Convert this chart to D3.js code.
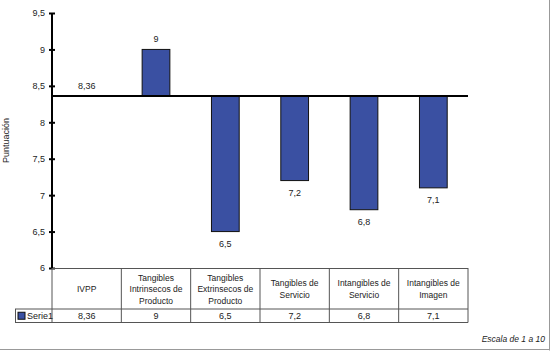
<!DOCTYPE html>
<html>
<head>
<meta charset="utf-8">
<script src="https://cdn.jsdelivr.net/npm/d3@7"></script>
<style>
  body { margin: 0; background: #fff; }
  svg { display: block; font-family: "Liberation Sans", Arial, sans-serif; }
</style>
</head>
<body>
<svg width="550" height="351"></svg>
<script>
"use strict";
// data
const categories = ["IVPP", "Tangibles\nIntrinsecos de\nProducto", "Tangibles\nExtrinsecos de\nProducto",
  "Tangibles de\nServicio", "Intangibles de\nServicio", "Intangibles de\nImagen"];
const values = [8.36, 9, 6.5, 7.2, 6.8, 7.1];
const baseline = 8.36;
const yTicks = [6, 6.5, 7, 7.5, 8, 8.5, 9, 9.5];
const seriesName = "Serie1";

let svg = d3.select("svg");
let margin = {top: 13, left: 52, right: 82, bottom: 83};
let width = 550, height = 351;
let plotBottom = height - margin.bottom;   // 268
let plotRight = width - margin.right;      // 468

let es = d3.formatLocale({decimal: ",", thousands: ".", grouping: [3], currency: ["", ""]});
let fmt = es.format("~g");

let y = d3.scaleLinear().domain([6, 9.5]).range([plotBottom, margin.top]);
let x = d3.scaleBand().domain(d3.range(categories.length)).range([margin.left, plotRight]).padding(0);
let barW = x.bandwidth() * 0.4;

// outer frame (only right/bottom visible)
svg.append("line").attr("x1", 549.5).attr("x2", 549.5).attr("y1", 0).attr("y2", 350.5)
  .attr("stroke", "#999").attr("stroke-width", 1);
svg.append("line").attr("x1", 0).attr("x2", 549.5).attr("y1", 349.5).attr("y2", 349.5)
  .attr("stroke", "#999").attr("stroke-width", 1);

// bars from the baseline
svg.append("g")
  .selectAll("rect")
  .data(values)
  .join("rect")
    .attr("x", (d, i) => x(i) + (x.bandwidth() - barW) / 2)
    .attr("y", d => y(Math.max(d, baseline)))
    .attr("width", barW)
    .attr("height", d => Math.abs(y(d) - y(baseline)))
    .attr("fill", "#3a50a2")
    .attr("stroke", "#111")
    .attr("stroke-width", 1);

// value labels
svg.append("g")
  .style("font-size", "9px")
  .attr("fill", "#222")
  .attr("text-anchor", "middle")
  .selectAll("text")
  .data(values)
  .join("text")
    .attr("x", (d, i) => x(i) + x.bandwidth() / 2)
    .attr("y", d => d >= baseline ? y(d) - 7 : y(d) + 15)
    .text(d => fmt(d));

// baseline line
svg.append("line")
  .attr("x1", margin.left).attr("x2", plotRight)
  .attr("y1", y(baseline)).attr("y2", y(baseline))
  .attr("stroke", "#000").attr("stroke-width", 2);

// y axis
let gy = svg.append("g")
  .attr("transform", `translate(${margin.left},0)`)
  .call(d3.axisLeft(y).tickValues(yTicks).tickFormat(fmt).tickSize(3).tickPadding(4));
gy.select(".domain").attr("stroke-width", 2).attr("d", `M0,${margin.top}V${plotBottom}`);
gy.selectAll(".tick line").attr("x1", -3).attr("x2", 3).attr("stroke-width", 2);
gy.selectAll(".tick text").style("font-size", "9px").attr("fill", "#222")
  .style("font-family", "'Liberation Sans', Arial, sans-serif");

svg.append("text")
  .attr("transform", `translate(9,${(margin.top + plotBottom) / 2}) rotate(-90)`)
  .attr("text-anchor", "middle")
  .style("font-size", "9px")
  .attr("fill", "#222")
  .text("Puntuación");

// data table
let rowTop = plotBottom, rowMid = 309, rowBot = 322.5;
let tbl = svg.append("g").attr("stroke", "#555").attr("stroke-width", 1);
tbl.append("line").attr("x1", margin.left).attr("x2", plotRight).attr("y1", rowTop + 0.5).attr("y2", rowTop + 0.5);
tbl.append("line").attr("x1", 15).attr("x2", plotRight).attr("y1", rowMid).attr("y2", rowMid);
tbl.append("line").attr("x1", 15).attr("x2", plotRight).attr("y1", rowBot).attr("y2", rowBot);
tbl.append("line").attr("x1", 15.5).attr("x2", 15.5).attr("y1", rowMid).attr("y2", rowBot);
tbl.selectAll(".col")
  .data(d3.range(categories.length + 1))
  .join("line")
    .attr("x1", i => i < categories.length ? x(i) : plotRight)
    .attr("x2", i => i < categories.length ? x(i) : plotRight)
    .attr("y1", rowTop).attr("y2", rowBot);

// header cells
let lineH = 11.5;
let head = svg.append("g").style("font-size", "8.5px").attr("fill", "#222").attr("text-anchor", "middle");
categories.forEach((c, i) => {
  let lines = c.split("\n");
  let cy = (rowTop + rowMid) / 2 - (lines.length - 1) * lineH / 2;
  let t = head.append("text").attr("x", x(i) + x.bandwidth() / 2);
  lines.forEach((l, j) => {
    t.append("tspan").attr("x", x(i) + x.bandwidth() / 2).attr("y", cy + j * lineH + 3.5).text(l);
  });
});

// series row
svg.append("g").style("font-size", "9px").attr("fill", "#222").attr("text-anchor", "middle")
  .selectAll("text")
  .data(values)
  .join("text")
    .attr("x", (d, i) => x(i) + x.bandwidth() / 2)
    .attr("y", (rowMid + rowBot) / 2 + 3.5)
    .text(d => fmt(d));

svg.append("rect").attr("x", 18).attr("y", (rowMid + rowBot) / 2 - 3.5).attr("width", 7).attr("height", 7)
  .attr("fill", "#3a50a2").attr("stroke", "#111");
svg.append("text").attr("x", 27).attr("y", (rowMid + rowBot) / 2 + 3.5)
  .style("font-size", "9px").attr("fill", "#222").text(seriesName);

// note
svg.append("text")
  .attr("x", 545).attr("y", 342)
  .attr("text-anchor", "end")
  .style("font-size", "8.5px").style("font-style", "italic")
  .attr("fill", "#222")
  .text("Escala de 1 a 10");
</script>
</body>
</html>
